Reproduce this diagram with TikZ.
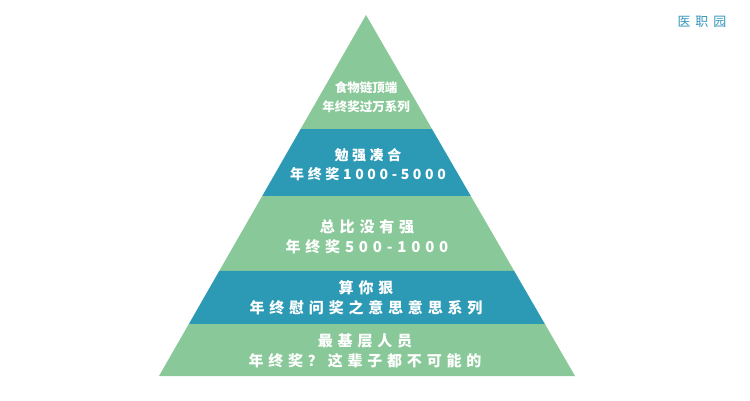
\documentclass[tikz,border=0pt]{standalone}
\usepackage{fontspec}
\newfontfamily\cjk{Noto Sans CJK SC}
\newfontfamily\cjkwide[LetterSpace=32]{Noto Sans CJK SC}
\newfontfamily\cjkmid[LetterSpace=26]{Noto Sans CJK SC}
\newfontfamily\cjkmark[LetterSpace=38]{Noto Sans CJK SC}
\usetikzlibrary{calc}
\definecolor{grn}{RGB}{137,200,152}
\definecolor{blu}{RGB}{44,154,181}
\definecolor{markblu}{RGB}{52,150,185}

\begin{document}
\begin{tikzpicture}[x=1pt,y=-1pt,
	lbl/.style={text=white,align=center,inner sep=0pt},
	small/.style={lbl,font=\cjk\bfseries\fontsize{12.5}{19}\selectfont},
	mid/.style={lbl,font=\cjkmid\bfseries\fontsize{14}{19}\selectfont},
	wide/.style={lbl,font=\cjkwide\bfseries\fontsize{15}{20}\selectfont}]
	\useasboundingbox (0,0) rectangle (750,400);
	\coordinate (top) at (366,15);
	\coordinate (bl) at (159,376);
	\coordinate (br) at (575,376);
	%bands
	\foreach \a/\b/\c in {0/0.3158/grn, 0.3158/0.5014/blu, 0.5014/0.7091/grn, 0.7091/0.8560/blu, 0.8560/1/grn}{
		\fill[\c] ($(top)!\a!(bl)$) -- ($(top)!\b!(bl)$) -- ($(top)!\b!(br)$) -- ($(top)!\a!(br)$) -- cycle;
	}
	%labels
	\node[small] (lv1) at (366,97.5) {食物链顶端\\年终奖过万系列};
	\node[mid] (lv2) at (368,165) {勉强凑合\\年终奖1000-5000};
	\node[wide] (lv3) at (367,237) {总比没有强\\年终奖500-1000};
	\node[wide] (lv4) at (366,297.5) {算你狠\\年终慰问奖之意思意思系列};
	\node[wide] (lv5) at (365,351) {最基层人员\\年终奖？这辈子都不可能的};
	%mark
	\node[text=markblu,font=\cjkmark\fontsize{13}{15}\selectfont,inner sep=0pt] (mark) at (702,22) {医职园};
\end{tikzpicture}
\end{document}
